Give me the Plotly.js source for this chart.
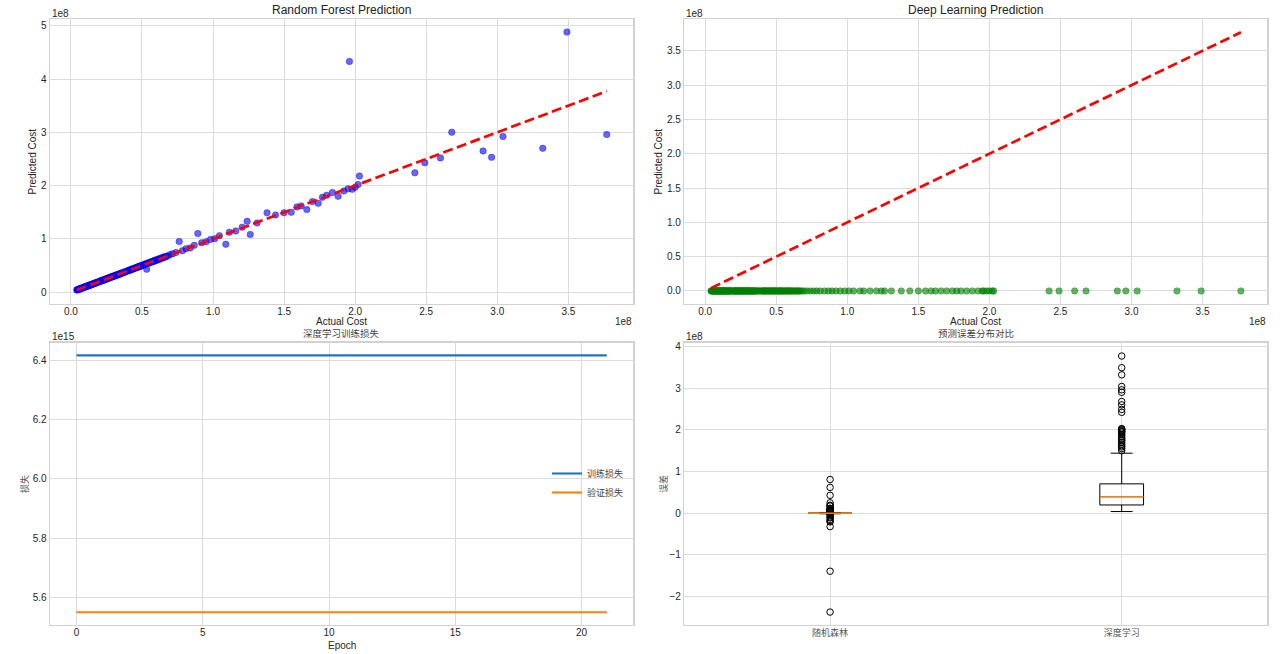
<!DOCTYPE html>
<html><head><meta charset="utf-8">
<script src="https://cdn.plot.ly/plotly-3.0.1.min.js"></script>
<style>html,body{margin:0;padding:0;background:#fff;}#chart{width:1280px;height:654px;}</style>
</head><body><div id="chart"></div>
<script>
// Actual cost of each test sample (units of 1e8)
const actualCost = [
 0.041,0.044,0.046,0.052,0.055,0.058,0.061,0.064,0.067,0.068,0.071,0.073,0.077,0.08,0.083,0.087,0.09,0.092,0.096,0.099,
 0.101,0.103,0.106,0.108,0.112,0.115,0.118,0.121,0.125,0.127,0.131,0.133,0.134,0.138,0.141,0.144,0.148,0.151,0.155,0.158,
 0.161,0.165,0.169,0.172,0.176,0.178,0.181,0.185,0.19,0.196,
 0.201,0.205,0.209,0.212,0.214,0.216,0.22,0.224,0.227,0.231,0.235,0.238,0.242,0.246,0.25,0.253,0.257,0.258,0.261,0.265,
 0.268,0.272,0.276,0.28,0.284,0.287,0.291,0.295,0.296,0.299,0.303,0.307,0.311,0.315,0.319,0.323,0.327,0.331,0.336,0.338,
 0.34,0.345,0.35,0.355,0.36,0.366,0.372,0.38,0.385,0.392,
 0.401,0.407,0.412,0.415,0.418,0.423,0.429,0.434,0.44,0.446,0.451,0.457,0.463,0.468,0.474,0.478,0.48,0.486,0.491,0.497,
 0.503,0.509,0.515,0.521,0.527,0.53,0.533,0.539,0.545,0.551,0.557,0.563,0.57,0.576,0.583,0.587,0.59,0.597,0.604,0.611,
 0.618,0.625,0.633,0.641,0.649,0.655,0.658,0.668,0.679,0.695,
 0.715,0.74,0.762,0.785,0.81,0.84,0.868,0.893,0.92,0.951,0.982,1.012,1.045,1.09,1.115,1.16,1.205,1.24,1.262,1.31,1.38,1.44,
 1.5,1.55,1.59,1.62,1.66,1.7,1.74,1.77,1.8,1.84,1.88,1.92,1.95,1.96,1.98,2.0,2.02,2.03,
 2.42,2.49,2.6,2.68,2.9,2.96,3.04,3.32,3.49,3.77
];
// Random forest predictions (units of 1e8)
const rfPredicted = [
 0.043,0.046,0.045,0.05,0.057,0.058,0.063,0.062,0.066,0.069,0.07,0.075,0.076,0.082,0.081,0.088,0.091,0.09,0.098,0.1,
 0.104,0.101,0.108,0.107,0.113,0.117,0.116,0.123,0.124,0.129,0.13,0.131,0.136,0.137,0.143,0.142,0.15,0.149,0.157,0.156,
 0.163,0.164,0.171,0.17,0.178,0.18,0.179,0.187,0.188,0.198,
 0.204,0.203,0.212,0.21,0.217,0.219,0.218,0.227,0.225,0.234,0.233,0.241,0.24,0.249,0.247,0.256,0.255,0.26,0.264,0.262,
 0.271,0.27,0.279,0.277,0.288,0.285,0.294,0.293,0.299,0.302,0.3,0.31,0.309,0.318,0.316,0.327,0.324,0.335,0.333,0.335,
 0.344,0.342,0.354,0.352,0.364,0.362,0.376,0.377,0.39,0.396,
 0.405,0.404,0.417,0.419,0.415,0.428,0.426,0.439,0.437,0.451,0.448,0.462,0.46,0.474,0.471,0.482,0.486,0.483,0.497,0.494,
 0.509,0.506,0.521,0.518,0.534,0.534,0.43,0.546,0.542,0.558,0.553,0.57,0.566,0.583,0.579,0.59,0.598,0.593,0.612,0.607,
 0.626,0.62,0.641,0.636,0.658,0.66,0.652,0.677,0.673,0.705,
 0.72,0.745,0.95,0.78,0.818,0.832,0.88,1.1,0.928,0.945,0.99,1.005,1.06,0.9,1.125,1.15,1.22,1.33,1.085,1.3,1.49,1.45,
 1.49,1.5,1.6,1.62,1.55,1.7,1.67,1.78,1.82,1.87,1.8,1.9,1.94,4.33,1.93,1.97,2.02,2.18,
 2.24,2.43,2.52,3.0,2.65,2.53,2.92,2.7,4.88,2.96
];
// Deep learning predictions (units of 1e8) - all read as ~0
const dlPredicted = [
 0,0,0,0,0,0,0,0,0,0,0,0,0,0,0,0,0,0,0,0,
 0,0,0,0,0,0,0,0,0,0,0,0,0,0,0,0,0,0,0,0,
 0,0,0,0,0,0,0,0,0,0,0,0,0,0,0,0,0,0,0,0,
 0,0,0,0,0,0,0,0,0,0,0,0,0,0,0,0,0,0,0,0,
 0,0,0,0,0,0,0,0,0,0,0,0,0,0,0,0,0,0,0,0,
 0,0,0,0,0,0,0,0,0,0,0,0,0,0,0,0,0,0,0,0,
 0,0,0,0,0,0,0,0,0,0,0,0,0,0,0,0,0,0,0,0,
 0,0,0,0,0,0,0,0,0,0,0,0,0,0,0,0,0,0,0,0,
 0,0,0,0,0,0,0,0,0,0,0,0,0,0,0,0,0,0,0,0,
 0,0,0,0,0,0,0,0,0,0,0,0,0,0,0,0,0,0,0,0
];
// Training history (units of 1e15)
const epochs = [0,1,2,3,4,5,6,7,8,9,10,11,12,13,14,15,16,17,18,19,20,21];
const trainLoss = [6.418,6.418,6.418,6.418,6.418,6.418,6.418,6.418,6.418,6.418,6.418,6.418,6.418,6.418,6.418,6.418,6.418,6.418,6.418,6.418,6.418,6.418];
const valLoss = [5.549,5.549,5.549,5.549,5.549,5.549,5.549,5.549,5.549,5.549,5.549,5.549,5.549,5.549,5.549,5.549,5.549,5.549,5.549,5.549,5.549,5.549];
const lossNames = ['训练损失','验证损失'];
const boxLabels = ['随机森林','深度学习'];

const rfResidual = actualCost.map((a,i)=>a-rfPredicted[i]);
const dlResidual = actualCost.map((a,i)=>a-dlPredicted[i]);
function median(arr){const s=arr.slice().sort((a,b)=>a-b);const n=s.length;return n%2?s[(n-1)/2]:(s[n/2-1]+s[n/2])/2;}
const lo = Math.min(...actualCost), hi = Math.max(...actualCost);

const FONT = 'Liberation Sans, Arial, sans-serif';
const CJK = 'Noto Sans CJK SC, sans-serif';
const TXT = '#262626';
const GRID = '#dcdcdc';

const traces = [
 {type:'scatter',mode:'markers',x:actualCost,y:rfPredicted,xaxis:'x',yaxis:'y',showlegend:false,
  marker:{size:6.5,color:'rgba(0,0,255,0.6)',line:{width:0.6,color:'rgba(0,0,255,0.6)'}}},
 {type:'scatter',mode:'lines',x:[lo,hi],y:[lo,hi],xaxis:'x',yaxis:'y',showlegend:false,
  line:{color:'red',width:2.7,dash:'10px,4.5px'}},
 {type:'scatter',mode:'markers',x:actualCost,y:dlPredicted,xaxis:'x2',yaxis:'y2',showlegend:false,
  marker:{size:6.5,color:'rgba(0,128,0,0.6)',line:{width:0.6,color:'rgba(0,128,0,0.6)'}}},
 {type:'scatter',mode:'lines',x:[lo,hi],y:[lo,hi],xaxis:'x2',yaxis:'y2',showlegend:false,
  line:{color:'red',width:2.7,dash:'10px,4.5px'}},
 {type:'scatter',mode:'lines',x:epochs,y:trainLoss,xaxis:'x3',yaxis:'y3',name:lossNames[0],
  line:{color:'#1f77b4',width:2.1}},
 {type:'scatter',mode:'lines',x:epochs,y:valLoss,xaxis:'x3',yaxis:'y3',name:lossNames[1],
  line:{color:'#ff7f0e',width:2.1}},
 {type:'box',x0:1,y:rfResidual,width:0.15,xaxis:'x4',yaxis:'y4',showlegend:false,name:boxLabels[0],
  line:{color:'black',width:1},fillcolor:'rgba(0,0,0,0)',boxpoints:'outliers',jitter:0,pointpos:0,whiskerwidth:0.5,
  quartilemethod:'linear',marker:{symbol:'circle-open',size:6.5,color:'black',line:{width:1,color:'black'}}},
 {type:'box',x0:2,y:dlResidual,width:0.15,xaxis:'x4',yaxis:'y4',showlegend:false,name:boxLabels[1],
  line:{color:'black',width:1},fillcolor:'rgba(0,0,0,0)',boxpoints:'outliers',jitter:0,pointpos:0,whiskerwidth:0.5,
  quartilemethod:'linear',marker:{symbol:'circle-open',size:6.5,color:'black',line:{width:1,color:'black'}}},
 {type:'scatter',mode:'lines',x:[0.925,1.075],y:[median(rfResidual),median(rfResidual)],xaxis:'x4',yaxis:'y4',showlegend:false,
  line:{color:'#ff7f0e',width:1.4}},
 {type:'scatter',mode:'lines',x:[1.925,2.075],y:[median(dlResidual),median(dlResidual)],xaxis:'x4',yaxis:'y4',showlegend:false,
  line:{color:'#ff7f0e',width:1.4}}
];

function ax(extra){
 return Object.assign({showgrid:true,gridcolor:GRID,gridwidth:1,zeroline:false,showline:true,mirror:true,
  linecolor:'#d2d2d2',linewidth:1.4,ticks:'',tickfont:{family:FONT,size:10,color:TXT},fixedrange:true},extra);
}
const X1=[0.03906,0.49477], X2=[0.53461,0.99023];
const Ytop=[0.5352,0.9705], Ybot=[0.04434,0.47599];

function ann(text,x,y,opt){
 return Object.assign({text:text,x:x,y:y,xref:'paper',yref:'paper',showarrow:false,
  font:{family:FONT,size:10,color:TXT},xanchor:'center',yanchor:'middle'},opt||{});
}
const px=(v)=>v/1280, py=(v)=>1-v/654;

const layout = {
 width:1280,height:654,margin:{l:0,r:0,t:0,b:0},paper_bgcolor:'#fff',plot_bgcolor:'#fff',
 boxmode:'overlay',
 xaxis: ax({domain:X1,anchor:'y',range:[-0.147,3.957],dtick:0.5,tick0:0,tickformat:'.1f',ticklabelstandoff:-2}),
 yaxis: ax({domain:Ytop,anchor:'x',range:[-0.22,5.12],dtick:1,tick0:0}),
 xaxis2: ax({domain:X2,anchor:'y2',range:[-0.147,3.957],dtick:0.5,tick0:0,tickformat:'.1f',ticklabelstandoff:-2}),
 yaxis2: ax({domain:Ytop,anchor:'x2',range:[-0.19,3.96],dtick:0.5,tick0:0,tickformat:'.1f'}),
 xaxis3: ax({domain:X1,anchor:'y3',range:[-1.05,22.05],dtick:5,tick0:0,ticklabelstandoff:-2}),
 yaxis3: ax({domain:Ybot,anchor:'x3',range:[5.506,6.461],dtick:0.2,tick0:5.6,tickformat:'.1f'}),
 xaxis4: ax({domain:X2,anchor:'y4',type:'linear',range:[0.5,2.5],tickvals:[1,2],ticktext:boxLabels,
   tickfont:{family:CJK,size:9,color:'#555'},ticklabelstandoff:-1}),
 yaxis4: ax({domain:Ybot,anchor:'x4',range:[-2.68,4.09],dtick:1,tick0:0}),
 showlegend:true,
 legend:{x:px(547),y:py(483),xanchor:'left',yanchor:'middle',bgcolor:'rgba(0,0,0,0)',borderwidth:0,
   font:{family:CJK,size:9,color:'#444'},tracegroupgap:0,itemwidth:30},
 annotations:[
  ann('Random Forest Prediction',px(341.6),py(10.5),{font:{family:FONT,size:12,color:'#222'}}),
  ann('Deep Learning Prediction',px(975.8),py(10.5),{font:{family:FONT,size:12,color:'#222'}}),
  ann('深度学习训练损失',px(341.6),py(332.5),{font:{family:CJK,size:9.5,color:'#444'}}),
  ann('预测误差分布对比',px(975.8),py(332.5),{font:{family:CJK,size:9.5,color:'#444'}}),
  ann('Actual Cost',px(341.6),py(321)),
  ann('Actual Cost',px(975.8),py(321)),
  ann('Predicted Cost',px(32),py(161.5),{textangle:-90}),
  ann('Predicted Cost',px(658),py(161.5),{textangle:-90}),
  ann('Epoch',px(341.6),py(645)),
  ann('损失',px(24),py(484),{textangle:-90,font:{family:CJK,size:9,color:'#555'}}),
  ann('误差',px(663),py(484),{textangle:-90,font:{family:CJK,size:9,color:'#555'}}),
  ann('1e8',px(50),py(13.3),{xanchor:'left'}),
  ann('1e8',px(684.3),py(13.3),{xanchor:'left'}),
  ann('1e8',px(633.5),py(321.7),{xanchor:'right'}),
  ann('1e8',px(1267.5),py(321.7),{xanchor:'right'}),
  ann('1e15',px(50),py(336.5),{xanchor:'left'}),
  ann('1e8',px(684.3),py(336.5),{xanchor:'left'})
 ]
};
Plotly.newPlot('chart',traces,layout,{displayModeBar:false,staticPlot:true});
</script></body></html>
